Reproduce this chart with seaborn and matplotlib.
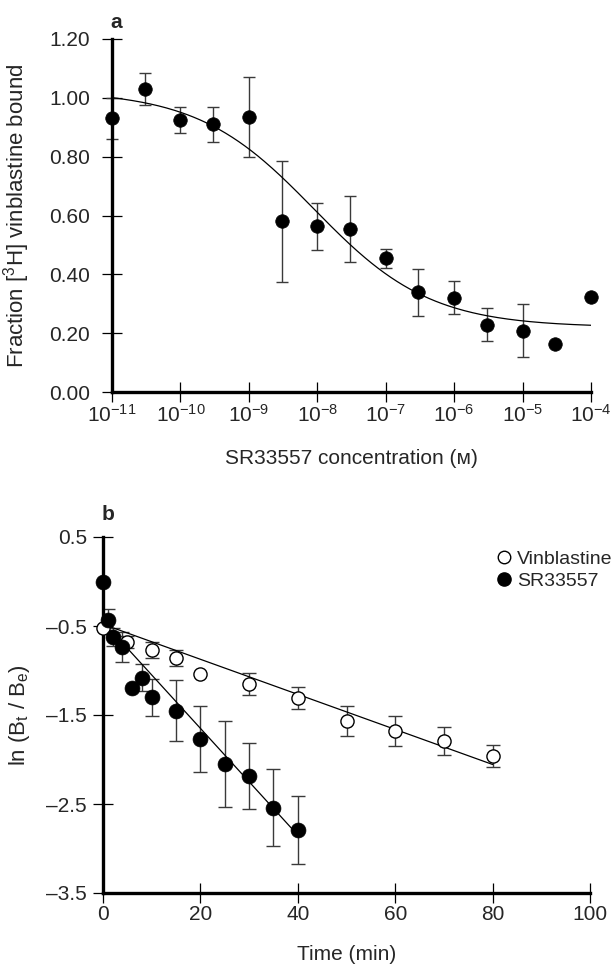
import numpy as np
import pandas as pd
import matplotlib
matplotlib.use("Agg")
import matplotlib.pyplot as plt
from matplotlib.lines import Line2D
import seaborn as sns

# ---------------- data: panel a ----------------
conc = [1e-11, 3e-11, 1e-10, 3e-10, 1e-9, 3e-9, 1e-8, 3e-8, 1e-7, 3e-7, 1e-6, 3e-6, 1e-5, 3e-5, 1e-4]
frac = [0.93, 1.03, 0.925, 0.91, 0.935, 0.58, 0.563, 0.554, 0.454, 0.339, 0.32, 0.229, 0.209, 0.162, 0.322]
frac_err = [0.07, 0.053, 0.043, 0.06, 0.137, 0.205, 0.079, 0.111, 0.031, 0.08, 0.056, 0.057, 0.09, 0.0, 0.0]
# sigmoid fit parameters (top, bottom, log EC50, Hill slope)
fit_top, fit_bottom, fit_logec50, fit_hill = 1.025, 0.22, -8.05, 0.51
a_xticks = [1e-11, 1e-10, 1e-9, 1e-8, 1e-7, 1e-6, 1e-5, 1e-4]
a_yticks = [0.0, 0.2, 0.4, 0.6, 0.8, 1.0, 1.2]

# ---------------- data: panel b ----------------
sr_time = [0, 1, 2, 4, 6, 8, 10, 15, 20, 25, 30, 35, 40]
sr_ln = [0.0, -0.43, -0.62, -0.74, -1.20, -1.08, -1.30, -1.45, -1.77, -2.05, -2.19, -2.54, -2.79]
sr_err = [0.0, 0.12, 0.10, 0.17, 0.0, 0.15, 0.21, 0.34, 0.37, 0.48, 0.37, 0.43, 0.38]
vin_time = [0, 5, 10, 15, 20, 30, 40, 50, 60, 70, 80]
vin_ln = [-0.52, -0.68, -0.77, -0.86, -1.04, -1.15, -1.31, -1.57, -1.68, -1.79, -1.96]
vin_err = [0.0, 0.07, 0.09, 0.09, 0.0, 0.12, 0.12, 0.17, 0.17, 0.16, 0.12]
# linear fits (intercept, slope, time range)
sr_fit = (-0.45, -0.060, 2, 40)
vin_fit = (-0.48, -0.0197, 0, 80)
b_xticks = [0, 20, 40, 60, 80, 100]
b_yticks = [0.5, -0.5, -1.5, -2.5, -3.5]

# ---------------- style ----------------
sns.set_style("ticks")
plt.rcParams["font.family"] = ["Liberation Sans", "DejaVu Sans"]
plt.rcParams["mathtext.fontset"] = "custom"
plt.rcParams["mathtext.rm"] = "Liberation Sans"
plt.rcParams["mathtext.it"] = "Liberation Sans"
plt.rcParams["mathtext.bf"] = "Liberation Sans:bold"

W, H = 615, 966
fig = plt.figure(figsize=(W / 100, H / 100), dpi=100)
ax_a = fig.add_axes([112 / W, 1 - 392 / H, (591 - 112) / W, (392 - 39) / H])
ax_b = fig.add_axes([103 / W, 1 - 893 / H, (590 - 103) / W, (893 - 537) / H])

FS = 15
err_color = "#3a3a3a"

def style_axes(ax, ypad):
    for s in ("top", "right"):
        ax.spines[s].set_visible(False)
    for s in ("left", "bottom"):
        ax.spines[s].set_linewidth(2.4)
        ax.spines[s].set_color("black")
    ax.tick_params(axis="both", which="major", direction="inout", length=14,
                   width=0.9, color="black", labelsize=FS)
    ax.tick_params(axis="y", pad=ypad)
    ax.tick_params(axis="x", pad=1.5)
    ax.tick_params(which="minor", length=0)
    ax.set_facecolor("white")

def dash(v, fmt):
    return (fmt % v).replace("-", "\u2013")

# ---------------- panel a ----------------
dfa = pd.DataFrame({"conc": conc, "frac": frac, "err": frac_err})
has_err = dfa["err"] > 0
ax_a.errorbar(dfa.loc[has_err, "conc"], dfa.loc[has_err, "frac"], yerr=dfa.loc[has_err, "err"],
              fmt="none", ecolor=err_color, elinewidth=1.0, capsize=4, capthick=1.0, zorder=2,
              clip_on=False)
xfit = np.logspace(-11, -4, 300)
yfit = fit_bottom + (fit_top - fit_bottom) / (1 + 10 ** ((np.log10(xfit) - fit_logec50) * fit_hill))
sns.lineplot(x=xfit, y=yfit, ax=ax_a, color="black", linewidth=0.9, zorder=2)
sns.scatterplot(data=dfa, x="conc", y="frac", ax=ax_a, s=95, color="black",
                edgecolor="black", linewidth=0.5, zorder=4, clip_on=False, legend=False)
ax_a.set_xscale("log")
ax_a.set_xlim(1e-11, 1e-4)
ax_a.set_ylim(0, 1.2)
ax_a.set_xticks(a_xticks)
ax_a.set_xticklabels([r"$10^{%d}$" % int(round(np.log10(v))) for v in a_xticks])
ax_a.set_yticks(a_yticks)
ax_a.set_yticklabels(["%.2f" % v for v in a_yticks])
ax_a.minorticks_off()
style_axes(ax_a, ypad=9)
ax_a.set_xlabel("SR33557 concentration (ᴍ)", fontsize=FS, labelpad=17)
ax_a.set_ylabel("Fraction [$^{3}$H] vinblastine bound", fontsize=16)
ax_a.yaxis.set_label_coords((32 - 112) / (591 - 112), 0.5)
fig.text(116 / W, 1 - 22 / H, "a", fontsize=FS, fontweight="bold", ha="center", va="center")

# ---------------- panel b ----------------
dsr = pd.DataFrame({"t": sr_time, "v": sr_ln, "e": sr_err})
dvin = pd.DataFrame({"t": vin_time, "v": vin_ln, "e": vin_err})
for d in (dsr, dvin):
    m = d["e"] > 0
    ax_b.errorbar(d.loc[m, "t"], d.loc[m, "v"], yerr=d.loc[m, "e"], fmt="none",
                  ecolor=err_color, elinewidth=1.0, capsize=5, capthick=1.0, zorder=2)
for b0, b1, t0, t1 in (vin_fit, sr_fit):
    tt = np.linspace(t0, t1, 50)
    sns.lineplot(x=tt, y=b0 + b1 * tt, ax=ax_b, color="black", linewidth=0.9, zorder=3)
sns.scatterplot(data=dvin, x="t", y="v", ax=ax_b, s=90, color="white", edgecolor="black",
                linewidth=1.0, zorder=4, clip_on=False, legend=False)
sns.scatterplot(data=dsr, x="t", y="v", ax=ax_b, s=115, color="black", edgecolor="black",
                linewidth=0.5, zorder=5, clip_on=False, legend=False)
ax_b.set_xlim(0, 100)
ax_b.set_ylim(-3.5, 0.5)
ax_b.set_xticks(b_xticks)
ax_b.set_yticks(b_yticks)
ax_b.set_yticklabels([dash(v, "%.1f") for v in b_yticks])
style_axes(ax_b, ypad=4.5)
ax_b.set_xlabel("Time (min)", fontsize=FS, labelpad=15)
ax_b.set_ylabel("ln (B$_{t}$ / B$_{e}$)", fontsize=16)
ax_b.yaxis.set_label_coords((32 - 103) / (590 - 103), 0.5)
fig.text(108 / W, 1 - 515 / H, "b", fontsize=FS, fontweight="bold", ha="center", va="center")

handles = [
    Line2D([], [], linestyle="none", marker="o", markersize=9, markerfacecolor="white",
           markeredgecolor="black", markeredgewidth=1.0, label="Vinblastine"),
    Line2D([], [], linestyle="none", marker="o", markersize=9.5, markerfacecolor="black",
           markeredgecolor="black", label="SR33557"),
]
fig.legend(handles=handles, loc="upper left", bbox_to_anchor=(494 / W, 1 - 550 / H),
           frameon=False, fontsize=14, handletextpad=0.2, handlelength=1.0,
           labelspacing=0.25, borderpad=0, borderaxespad=0)

fig.savefig("out.png", dpi=100, facecolor="white")
